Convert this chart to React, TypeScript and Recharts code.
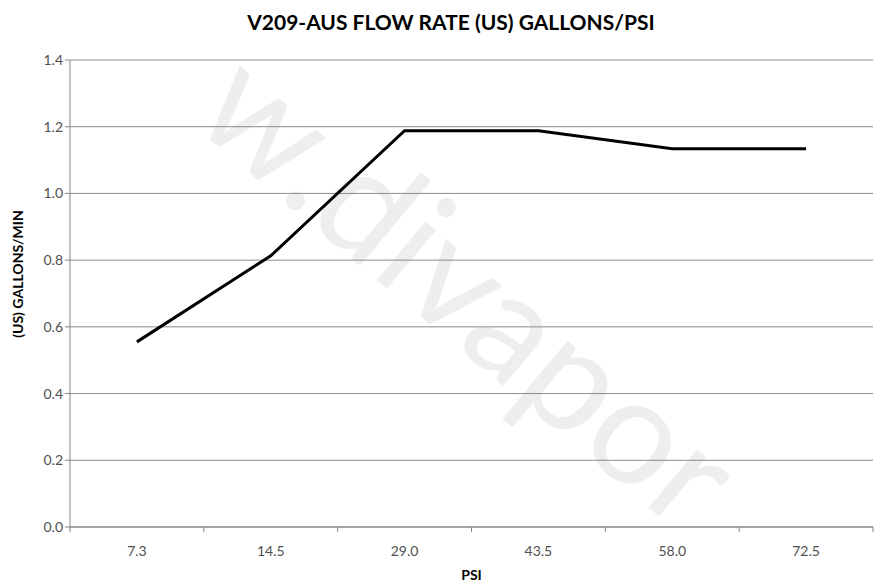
import { LineChart, Line, XAxis, YAxis, CartesianGrid } from "recharts";

const psiLabels = ["7.3", "14.5", "29.0", "43.5", "58.0", "72.5"];
const flowValues = [0.555, 0.813, 1.188, 1.188, 1.134, 1.134];
const yTicks = [0, 0.2, 0.4, 0.6, 0.8, 1.0, 1.2, 1.4];

const data = psiLabels.map((psi, i) => ({ psi, flow: flowValues[i] }));

const W = 886;
const H = 585;
const PLOT_LEFT = 70;
const PLOT_RIGHT = 13;
const PLOT_BOTTOM = 527;
const BAND = (W - PLOT_LEFT - PLOT_RIGHT) / psiLabels.length;
const FONT = "Lato, 'Open Sans', sans-serif";

function CategoryTick(props: any) {
  const { x, payload, index } = props;
  const left = x - BAND / 2;
  return (
    <g>
      <line x1={left} y1={PLOT_BOTTOM} x2={left} y2={PLOT_BOTTOM + 5} stroke="#868686" />
      {index === psiLabels.length - 1 && (
        <line x1={x + BAND / 2} y1={PLOT_BOTTOM} x2={x + BAND / 2} y2={PLOT_BOTTOM + 5} stroke="#868686" />
      )}
      <text x={x} y={PLOT_BOTTOM + 29} textAnchor="middle" fill="#505050" fontSize={14} fontFamily={FONT}>
        {payload.value}
      </text>
    </g>
  );
}

export default function App() {
  return (
    <div style={{ position: "absolute", left: 0, top: 0, width: W, height: H, background: "#fff", overflow: "hidden" }}>
      <svg width={W} height={H} style={{ position: "absolute", left: 0, top: 0 }}>
        <text
          x={460}
          y={300}
          textAnchor="middle"
          dominantBaseline="middle"
          fontSize={150}
          fontFamily={FONT}
          fill="#eeeeee"
          transform="rotate(40 460 300)"
        >
          w.divapor
        </text>
      </svg>
      <div style={{ position: "absolute", left: 0, top: 0 }}>
        <LineChart width={W} height={H} data={data} margin={{ top: 60, right: PLOT_RIGHT, bottom: 28, left: 10 }}>
          <text x={451} y={30} textAnchor="middle" fontSize={21} fontWeight="bold" fontFamily={FONT} fill="#000">
            V209-AUS FLOW RATE (US) GALLONS/PSI
          </text>
          <text
            x={19}
            y={274}
            textAnchor="middle"
            dominantBaseline="middle"
            fontSize={14}
            fontWeight="bold"
            fontFamily={FONT}
            fill="#000"
            transform="rotate(-90 19 274)"
          >
            (US) GALLONS/MIN
          </text>
          <CartesianGrid vertical={false} stroke="#8c8c8c" />
          <XAxis
            dataKey="psi"
            stroke="#868686"
            tickLine={false}
            tick={<CategoryTick />}
            height={30}
            interval={0}
            padding={{ left: BAND / 2, right: BAND / 2 }}
            label={{ value: "PSI", position: "insideBottom", offset: -23, fontSize: 14, fontWeight: "bold", fill: "#000", fontFamily: FONT }}
          />
          <YAxis
            domain={[0, 1.4]}
            ticks={yTicks}
            tickFormatter={(v: number) => v.toFixed(1)}
            stroke="#868686"
            tickSize={5}
            width={60}
            tick={{ fill: "#505050", fontSize: 14, fontFamily: FONT }}
          />
          <Line
            type="linear"
            dataKey="flow"
            stroke="#000"
            strokeWidth={3}
            dot={false}
            isAnimationActive={false}
          />
        </LineChart>
      </div>
    </div>
  );
}
